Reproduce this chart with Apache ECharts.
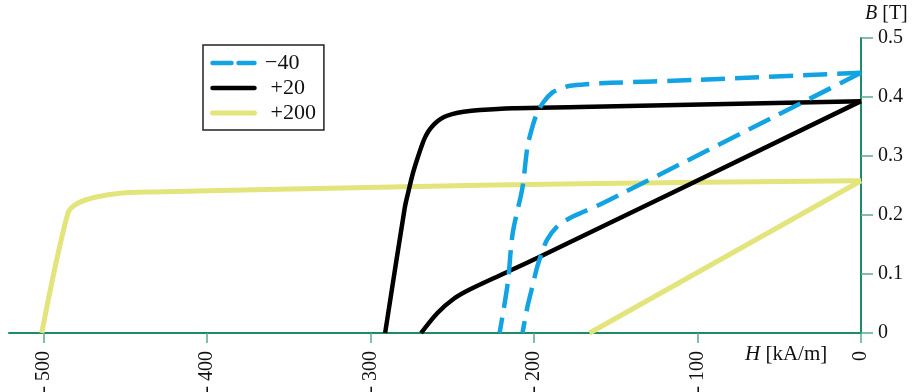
<!DOCTYPE html>
<html>
<head>
<meta charset="utf-8">
<script src="https://cdn.jsdelivr.net/npm/echarts@6.0.0/dist/echarts.min.js"></script>
<style>
  html, body { margin: 0; padding: 0; background: #fff; }
  #chart { width: 918px; height: 392px; }
</style>
</head>
<body>
<div id="chart"></div>
<script>
// Tick values
var xTicks = [-500, -400, -300, -200, -100, 0];
var yTicks = [0, 0.1, 0.2, 0.3, 0.4, 0.5];

// Legend names (temperature, °C)
var names = ['\u221240', '+20', '+200'];

// Series data: [H (kA/m), B (T)]
var blueUpper = [[0, 0.441], [-101, 0.429], [-153, 0.424], [-166, 0.422], [-178, 0.419], [-184, 0.414],
  [-189, 0.407], [-194, 0.392], [-198, 0.373], [-201, 0.349], [-204, 0.315], [-207, 0.247],
  [-213, 0.169], [-216, 0.085], [-221, 0]];
var blueLower = [[0, 0.441], [-158, 0.220], [-170, 0.205], [-178, 0.195], [-186, 0.180], [-192, 0.158],
  [-195, 0.137], [-198, 0.112], [-201, 0.078], [-204, 0.044], [-207, 0]];
var blackUpper = [[0, 0.393], [-172, 0.383], [-213, 0.381], [-233, 0.378], [-243, 0.375], [-250, 0.371],
  [-255, 0.366], [-259, 0.359], [-262, 0.351], [-264.5, 0.342], [-266.5, 0.332], [-268, 0.322],
  [-271, 0.298], [-274, 0.271], [-277, 0.237], [-279, 0.212], [-291, 0]];
var blackLower = [[0, 0.393], [-198, 0.127], [-219, 0.100], [-239, 0.074],
  [-249, 0.058], [-259, 0.034], [-269, 0]];
var yellowUpper = [[0, 0.258], [-172, 0.253], [-294, 0.247], [-433, 0.239], [-453, 0.237], [-467, 0.231],
  [-479, 0.220], [-485, 0.203], [-501, 0]];
var yellowLower = [[0, 0.258], [-166, 0]];

var BLUE = '#12a3e3';
var BLACK = '#000000';
var YELLOW = '#e4e47c';
var AXIS = '#1f8a69';
var FONT = '"Liberation Serif", "DejaVu Serif", serif';

function line(name, data, color, width, type, smooth) {
  return {
    type: 'line', name: name, data: data, symbol: 'none',
    smooth: smooth || false,
    lineStyle: { color: color, width: width, type: type || 'solid', cap: 'butt', join: 'round' },
    itemStyle: { color: color },
    animation: false, silent: true
  };
}

var chart = echarts.init(document.getElementById('chart'), null, { renderer: 'canvas' });
chart.setOption({
  backgroundColor: '#ffffff',
  animation: false,
  grid: { left: 9, right: 57, top: 38, bottom: 59, containLabel: false, outerBoundsMode: 'none' },
  legend: {
    data: [
      { name: names[0], lineStyle: { type: [19, 7] } },
      { name: names[1] },
      { name: names[2] }
    ],
    orient: 'vertical',
    left: 203, top: 45,
    padding: [7, 8, 6, 7],
    itemWidth: 42, itemHeight: 14, itemGap: 3,
    borderColor: '#222', borderWidth: 1.5, borderRadius: 0,
    backgroundColor: '#fff',
    selectedMode: false,
    formatter: function (n) { return n.charAt(0) === '+' ? '  ' + n : ' ' + n; },
    textStyle: { fontFamily: FONT, fontSize: 22, color: '#111', lineHeight: 22 },
    lineStyle: { width: 'inherit', cap: 'round' },
    itemStyle: { color: 'rgba(0,0,0,0)', borderWidth: 0, opacity: 0 }
  },
  xAxis: {
    type: 'value', min: -521, max: 0,
    axisLine: { show: true, onZero: false, lineStyle: { color: AXIS, width: 2 } },
    axisTick: { show: true, customValues: xTicks, length: 10, lineStyle: { color: '#5aa98d', width: 1.5 } },
    axisLabel: {
      customValues: xTicks, rotate: 90, margin: 18,
      fontFamily: FONT, fontSize: 20, color: '#111',
      formatter: function (v) { return v === 0 ? '0' : '- ' + (-v); }
    },
    splitLine: { show: false }
  },
  yAxis: {
    type: 'value', position: 'right', min: 0, max: 0.5, interval: 0.1,
    axisLine: { show: true, onZero: false, lineStyle: { color: AXIS, width: 2 } },
    axisTick: { show: true, length: 12, lineStyle: { color: '#5aa98d', width: 1.5 } },
    axisLabel: {
      margin: 17, fontFamily: FONT, fontSize: 20, color: '#111',
      formatter: function (v) { return yTicks.indexOf(Math.round(v * 10) / 10) >= 0 ? String(Math.round(v * 10) / 10) : ''; }
    },
    splitLine: { show: false }
  },
  graphic: [
    {
      type: 'text', left: 865, top: 4,
      style: {
        text: '{i|B} [T]', fontFamily: FONT, fontSize: 20, fill: '#111',
        rich: { i: { fontStyle: 'italic', fontFamily: FONT, fontSize: 20, fill: '#111' } }
      }
    },
    {
      type: 'text', left: 745, top: 344,
      style: {
        text: '{i|H} [kA/m]', fontFamily: FONT, fontSize: 21, fill: '#111',
        rich: { i: { fontStyle: 'italic', fontFamily: FONT, fontSize: 21, fill: '#111' } }
      }
    }
  ],
  series: [
    line(names[2], yellowUpper, YELLOW, 5, null, 0.3),
    line(names[2], yellowLower, YELLOW, 5),
    line(names[1], blackUpper, BLACK, 4.5, null, 0.3),
    line(names[1], blackLower, BLACK, 4.5, null, 0.3),
    line(names[0], blueUpper, BLUE, 4.5, [24, 10], 0.3),
    line(names[0], blueLower, BLUE, 4.5, [24, 10], 0.3)
  ]
});
</script>
</body>
</html>
